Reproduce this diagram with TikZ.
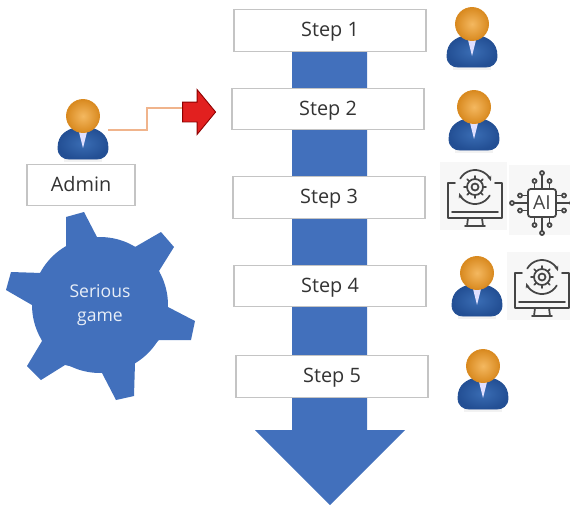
\documentclass[tikz,border=0pt]{standalone}
\usepackage{fontspec}
\setmainfont{Open Sans}
\usetikzlibrary{arrows.meta}
\usetikzlibrary{shapes.arrows}
\definecolor{flowblue}{HTML}{4270BC}
\definecolor{boxgrey}{HTML}{C4C4C4}
\definecolor{textgrey}{HTML}{333333}
\definecolor{icongrey}{HTML}{454545}
\definecolor{iconback}{HTML}{F7F7F7}
\definecolor{wireorange}{HTML}{F0B48C}
\definecolor{headlight}{HTML}{F4B860}
\definecolor{headdark}{HTML}{D98A20}
\definecolor{bodylight}{HTML}{3A6DB4}
\definecolor{bodydark}{HTML}{234F94}
\definecolor{arrowred}{HTML}{E2201F}
\tikzset{
    stepbox/.style={draw=boxgrey,line width=0.7pt,fill=white,minimum width=3.84cm,minimum height=0.83cm,text=textgrey,text height=8.2pt,text depth=1.2pt,font=\fontsize{11.3}{13}\selectfont},
    adminbox/.style={stepbox,minimum width=2.16cm},
    gearbody/.style={circle,fill=flowblue,minimum size=2.72cm,inner sep=0pt,align=center,text=white!88!flowblue,font=\fontsize{10}{13.6}\selectfont},
    iconline/.style={draw=icongrey,line width=1pt,line cap=round,line join=round},
    pics/person/.style={code={
        \fill[black!10,opacity=0.5] (-19,40) rectangle (19,46);
        \shade[draw=bodydark,line width=0.5pt,inner color=bodylight,outer color=bodydark]
            (-25,32) .. controls (-25,18) and (-15,14) .. (-8,12) -- (8,12) .. controls (15,14) and (25,18) .. (25,32)
            .. controls (25,40) and (19,43) .. (14,43) -- (-14,43) .. controls (-19,43) and (-25,40) .. (-25,32) -- cycle;
        \fill[blue!12!white] (-5,12) -- (5,12) -- (0,32) -- cycle;
        \shade[draw=headdark,line width=0.5pt,inner color=headlight,outer color=headdark] (0,0) circle (16.5);
        \coordinate (-side) at (25,14);
    }},
    pics/monitor/.style={code={
        \fill[iconback] (-35,-25) rectangle (32,43);
        \draw[iconline] (-20,-4) -- (-27,-4) -- (-27,31) -- (27,31) -- (27,-4) -- (20,-4);
        \draw[iconline] (-23,25) -- (23,25);
        \draw[iconline] (-7,31) -- (-8,39) (7,31) -- (8,39) (-10,39) -- (10,39);
        \draw[iconline] (0,0) circle (3.5) (0,0) circle (8);
        \foreach \toothangle in {0,45,...,315}
            \draw[iconline] (\toothangle:8) -- (\toothangle:11);
        \draw[iconline,-{Stealth[length=3pt]}] (-150:17) arc[start angle=-150,end angle=-20,radius=17];
        \draw[iconline,-{Stealth[length=3pt]}] (30:17) arc[start angle=30,end angle=160,radius=17];
    }},
    pics/chip/.style={code={
        \fill[iconback] (-33,-38) rectangle (28,32);
        \foreach \pinturn in {0,90,180,270} {
            \begin{scope}[rotate=\pinturn]
                \draw[iconline] (-7.5,-14) -- (-7.5,-20) (7.5,-14) -- (7.5,-20) (0,-14) -- (0,-28);
                \draw[iconline,fill=white] (-7.5,-22) circle (2) (7.5,-22) circle (2) (0,-30) circle (2);
            \end{scope}
        }
        \draw[iconline,fill=white,rounded corners=1.5pt] (-14,-14) rectangle (14,14);
        \node[text=icongrey,font=\fontsize{11}{13}\selectfont] (-label) at (0,0) {AI};
    }},
}
\begin{document}
\begin{tikzpicture}[x=0.02cm,y=-0.02cm]
    \useasboundingbox (0,0) rectangle (570,505);
    \fill[flowblue] (292,45) -- (367,45) -- (367,430) -- (405,430) -- (330,505) -- (255,430) -- (292,430) -- cycle;
    \foreach \stepnum/\stepx/\stepy in {1/330/30.5,2/328/109,3/329/197.5,4/330/286,5/332/376.5}
        \node[stepbox] (step\stepnum) at (\stepx,\stepy) {Step \stepnum};
    \fill[flowblue] (66,217) -- (84,212) -- (98,239) -- (135,247) -- (161,232) -- (174,247) -- (159,271)
        -- (168,307) -- (195,321) -- (191,340) -- (159,340) -- (135,363) -- (134,396) -- (116,400)
        -- (102,373) -- (65,365) -- (41,380) -- (27,366) -- (42,341) -- (32,305) -- (6,290) -- (11,272)
        -- (42,273) -- (66,247) -- cycle;
    \node[gearbody] (gear) at (100,305) {Serious\\game};
    \node[adminbox] (admin) at (81,185) {Admin};
    \pic (adminuser) at (83,116) {person};
    \pic (userone) at (472,24) {person};
    \pic (usertwo) at (474,107) {person};
    \pic (userfour) at (477,273) {person};
    \pic (userfive) at (483,366) {person};
    \pic (monitorone) at (475,187) {monitor};
    \pic (chipone) at (542,203) {chip};
    \pic (monitortwo) at (542,277) {monitor};
    \node[single arrow,fill=arrowred,draw=red!55!black,line width=0.5pt,inner xsep=0pt,inner ysep=0.19cm,minimum height=0.66cm,single arrow head extend=0.25cm,single arrow head indent=0pt,single arrow tip angle=101] (redarrow) at (195,112) {};
    \coordinate (wirebend) at (147,130);
    \draw[wireorange,line width=0.6pt] (adminuser-side) -- (wirebend) |- ([yshift=0.08cm]redarrow.tail);
\end{tikzpicture}
\end{document}
